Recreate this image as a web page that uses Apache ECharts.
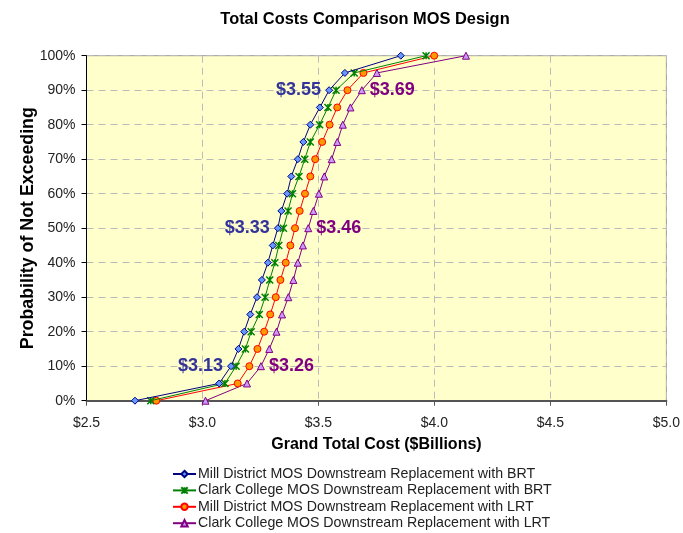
<!DOCTYPE html>
<html>
<head>
<meta charset="utf-8">
<script src="https://cdn.jsdelivr.net/npm/echarts@6/dist/echarts.min.js"></script>
<style>html,body{margin:0;padding:0;background:#fff;}#c{width:683px;height:533px;}</style>
</head>
<body>
<div id="c"></div>
<script>
var probabilities = [0,5,10,15,20,25,30,35,40,45,50,55,60,65,70,75,80,85,90,95,100];
var millBRT = [2.709,3.072,3.123,3.155,3.180,3.206,3.235,3.256,3.282,3.303,3.325,3.340,3.365,3.383,3.411,3.435,3.465,3.506,3.546,3.614,3.855];
var clarkBRT = [2.777,3.097,3.145,3.185,3.210,3.245,3.270,3.290,3.312,3.329,3.349,3.369,3.388,3.416,3.441,3.465,3.505,3.541,3.576,3.654,3.964];
var millLRT = [2.801,3.152,3.202,3.237,3.266,3.292,3.316,3.336,3.359,3.379,3.399,3.419,3.442,3.465,3.486,3.516,3.548,3.581,3.625,3.694,3.999];
var clarkLRT = [3.013,3.192,3.252,3.288,3.319,3.343,3.370,3.392,3.411,3.433,3.456,3.478,3.502,3.525,3.557,3.581,3.605,3.638,3.687,3.752,4.136];
var seriesNames = ['Mill District MOS Downstream Replacement with BRT','Clark College MOS Downstream Replacement with BRT','Mill District MOS Downstream Replacement with LRT','Clark College MOS Downstream Replacement with LRT'];
var xTicks = [2.5,3.0,3.5,4.0,4.5,5.0];
var millLabels = [{p:10,v:'$3.13'},{p:50,v:'$3.33'},{p:90,v:'$3.55'}];
var clarkLabels = [{p:10,v:'$3.26'},{p:50,v:'$3.46'},{p:90,v:'$3.69'}];

function pairs(xs){ return xs.map(function(x,i){ return [x, probabilities[i]]; }); }
function xAt(xs,p){ return xs[probabilities.indexOf(p)]; }

var starPath = 'path://M0,0L10,10M10,0L0,10M5,0L5,10';

function labelPoints(xs, labels, color, side){
  return labels.map(function(l){
    return {
      coord: [xAt(xs,l.p), l.p],
      symbol: 'circle', symbolSize: 0,
      label: {
        show: true, formatter: l.v, color: color,
        fontFamily: 'Liberation Sans, Arial', fontWeight: 'bold', fontSize: 18,
        position: side === 'left' ? 'left' : 'right',
        distance: 8
      }
    };
  });
}

var chart = echarts.init(document.getElementById('c'), null, {renderer:'canvas'});
var axisFont = {fontFamily:'Liberation Sans, Arial', fontSize:14, color:'#222'};
chart.setOption({
  animation:false,
  backgroundColor:'#fff',
  title:{ text:'Total Costs Comparison MOS Design', left:360, textAlign:'center', top:6,
    textStyle:{fontFamily:'Liberation Sans, Arial', fontWeight:'bold', fontSize:16.4, color:'#000'} },
  grid:{ left:86.5, right:15.7, top:55.7, bottom:132.3, show:true, backgroundColor:'#FFFFCC', borderColor:'#999', borderWidth:1 },
  legend:{
    orient:'vertical', left:167, top:462, height:100, itemWidth:23, itemHeight:8, itemGap:2.4,
    textStyle:{fontFamily:'Liberation Sans, Arial', fontSize:14.2, lineHeight:14, color:'#222', padding:[0,0,0,-3]},
    data: seriesNames
  },
  xAxis:{
    type:'value', min:xTicks[0], max:xTicks[xTicks.length-1], interval:0.5,
    name:'Grand Total Cost ($Billions)', nameLocation:'middle', nameGap:36,
    nameTextStyle:{fontFamily:'Liberation Sans, Arial', fontWeight:'bold', fontSize:16, color:'#000'},
    axisLine:{lineStyle:{color:'#555', width:2}},
    axisTick:{show:true, length:5, lineStyle:{color:'#555'}},
    axisLabel:Object.assign({margin:15, formatter:function(v){return '$'+v.toFixed(1);}}, axisFont),
    splitLine:{show:true, lineStyle:{color:'#bbb', type:[7,5], width:1}}
  },
  yAxis:{
    type:'value', min:0, max:100, interval:10,
    name:'Probability of Not Exceeding', nameLocation:'middle', nameGap:49, nameRotate:90, nameMoveOverlap:false,
    nameTextStyle:{fontFamily:'Liberation Sans, Arial', fontWeight:'bold', fontSize:17.8, color:'#000'},
    axisLine:{show:true, lineStyle:{color:'#000', width:1}},
    axisTick:{show:true, length:5, lineStyle:{color:'#000'}},
    axisLabel:Object.assign({margin:11, formatter:function(v){return v+'%';}}, axisFont),
    splitLine:{show:true, lineStyle:{color:'#bbb', type:[7,5], width:1}}
  },
  series:[
    { name:seriesNames[0], type:'line', data:pairs(millBRT), symbol:'diamond', symbolSize:7,
      lineStyle:{color:'#000080', width:1}, itemStyle:{color:'#6699FF', borderColor:'#000080', borderWidth:1},
      markPoint:{data:labelPoints(millBRT, millLabels, '#333399', 'left')}, z:5 },
    { name:seriesNames[1], type:'line', data:pairs(clarkBRT), symbol:starPath, symbolSize:7,
      lineStyle:{color:'#008000', width:1}, itemStyle:{color:'#008000', borderColor:'#008000', borderWidth:1.5}, z:4 },
    { name:seriesNames[2], type:'line', data:pairs(millLRT), symbol:'circle', symbolSize:7,
      lineStyle:{color:'#FF0000', width:1}, itemStyle:{color:'#FF9900', borderColor:'#FF0000', borderWidth:1}, z:3 },
    { name:seriesNames[3], type:'line', data:pairs(clarkLRT), symbol:'triangle', symbolSize:7,
      lineStyle:{color:'#800080', width:1}, itemStyle:{color:'#CC99FF', borderColor:'#800080', borderWidth:1},
      markPoint:{data:labelPoints(clarkLRT, clarkLabels, '#800080', 'right')}, z:2 }
  ]
});
</script>
</body>
</html>
